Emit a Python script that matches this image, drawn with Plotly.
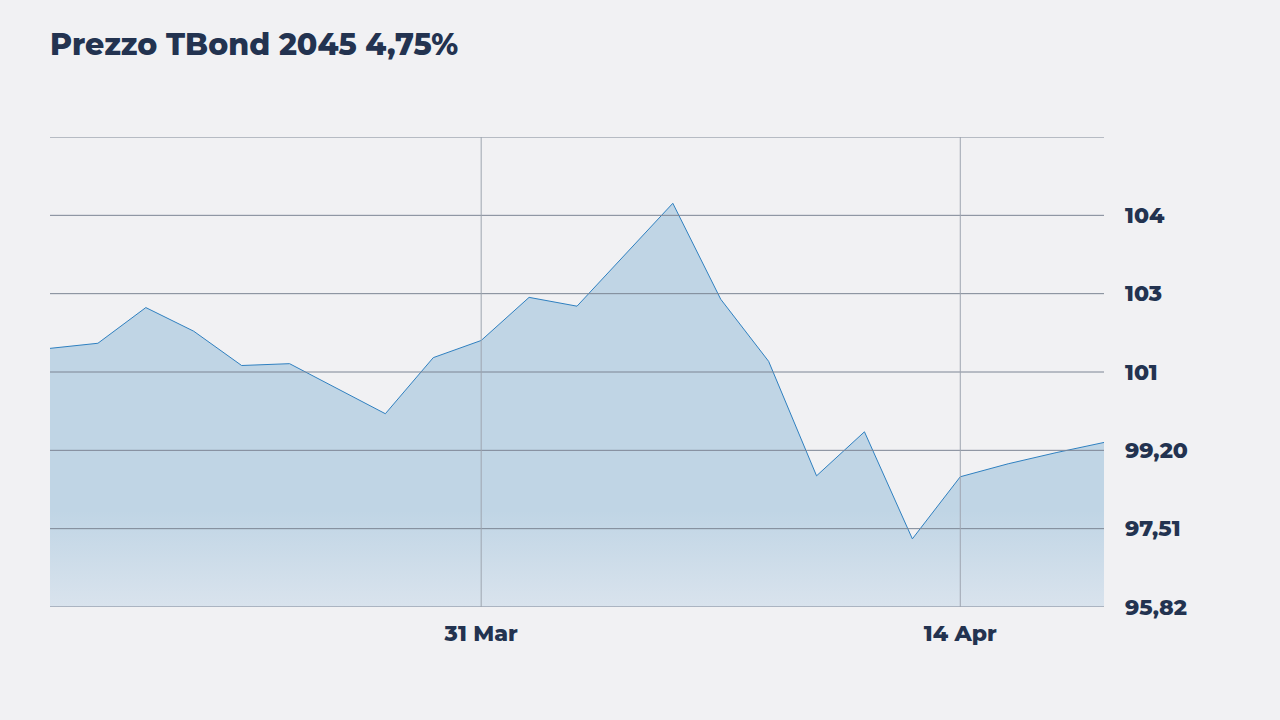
import plotly.graph_objects as go

dates = ["2025-03-18", "2025-03-19", "2025-03-20", "2025-03-21", "2025-03-24",
         "2025-03-25", "2025-03-27", "2025-03-28", "2025-03-31", "2025-04-01",
         "2025-04-02", "2025-04-04", "2025-04-07", "2025-04-08", "2025-04-09",
         "2025-04-10", "2025-04-11", "2025-04-14", "2025-04-15", "2025-04-16",
         "2025-04-17"]
prices = [101.40, 101.51, 102.28, 101.77, 101.03,
          101.07, 99.99, 101.20, 101.57, 102.50,
          102.31, 104.53, 102.46, 101.12, 98.65,
          99.60, 97.29, 98.63, 98.91, 99.15,
          99.37]

y_tickvals = [95.82, 97.51, 99.20, 100.89, 102.58, 104.27, 105.96]
y_ticktext = ["95,82", "97,51", "99,20", "101", "103", "104", ""]
x_tickvals = ["2025-03-31", "2025-04-14"]
x_ticktext = ["31 Mar", "14 Apr"]

TEXT = "#233350"
BG = "#f1f1f3"
FONT = "Montserrat, Inter, Lato, sans-serif"

fig = go.Figure()
fig.add_trace(go.Scatter(
    x=dates, y=prices, mode="lines",
    line=dict(color="#2f80c0", width=1),
    fill="tozeroy",
    fillgradient=dict(type="vertical",
                      colorscale=[[0, "rgb(217,227,237)"], [1, "rgb(192,213,229)"]],
                      start=95.82, stop=97.9),
    hoverinfo="skip", showlegend=False,
))

# grid lines drawn above the filled area, positioned by the axes' scales
for v in y_tickvals:
    fig.add_shape(type="line", xref="paper", x0=0, x1=1, yref="y", y0=v, y1=v,
                  line=dict(color="#7c8594", width=1), layer="above")
for d in x_tickvals:
    fig.add_shape(type="line", xref="x", x0=d, x1=d, yref="paper", y0=0, y1=1,
                  line=dict(color="#9ea5b0", width=1), layer="above")

fig.update_layout(
    width=1280, height=720,
    paper_bgcolor=BG, plot_bgcolor=BG,
    margin=dict(l=50, r=176, t=137, b=113),
    title=dict(text="Prezzo TBond 2045 4,75%", x=0, xref="paper", xanchor="left",
               y=1 - 44 / 720, yref="container", yanchor="middle",
               font=dict(family=FONT, size=30, color=TEXT, weight=800)),
    xaxis=dict(type="date", range=["2025-03-18", "2025-04-17"],
               rangebreaks=[dict(bounds=["sat", "mon"])],
               tickvals=x_tickvals, ticktext=x_ticktext,
               showgrid=False, zeroline=False, showline=False, ticks="",
               ticklabelstandoff=11,
               tickfont=dict(family=FONT, size=22, color=TEXT, weight=800)),
    yaxis=dict(side="right", range=[95.82, 105.96],
               tickvals=y_tickvals, ticktext=y_ticktext,
               showgrid=False, zeroline=False, showline=False, ticks="",
               ticklabelstandoff=20,
               tickfont=dict(family=FONT, size=22, color=TEXT, weight=800)),
)

fig.write_html("out.html")
